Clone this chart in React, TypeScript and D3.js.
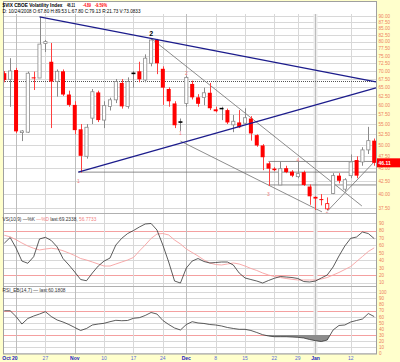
import React from "react";
import * as d3 from "d3";

// ---------- DATA ----------
const dates = [
  "10/16","10/17","10/20","10/21","10/22","10/23","10/24","10/27","10/28","10/29","10/30","10/31",
  "11/3","11/4","11/5","11/6","11/7","11/10","11/11","11/12","11/13","11/14","11/17","11/18","11/19","11/20","11/21",
  "11/24","11/25","11/26","11/28","12/1","12/2","12/3","12/4","12/5","12/8","12/9","12/10","12/11","12/12",
  "12/15","12/16","12/17","12/18","12/19","12/22","12/23","12/24","12/26","12/29","12/30","12/31","1/2",
  "1/5","1/6","1/7","1/8","1/9","1/12","1/13","1/14","1/15","1/16"
];
const opens = [69.3,67.4,70.3,52.9,53.0,68.0,67.8,79.3,73.0,66.7,69.9,62.9,60.0,53.7,47.5,56.5,63.5,56.0,59.6,61.4,66.3,59.6,69.5,69.9,67.2,72.5,80.6,70.7,64.5,60.4,55.7,60.4,66.0,62.1,62.1,63.4,58.8,59.2,58.6,54.8,55.4,55.2,56.4,52.3,49.9,46.0,44.9,41.7,45.0,44.3,43.3,44.2,41.4,39.5,39.1,37.4,40.1,43.5,40.9,43.5,46.7,46.3,48.9,51.0];
const highs = [70.0,74.2,71.0,53.5,69.8,69.8,89.5,80.6,79.5,70.5,70.5,64.0,61.0,55.0,55.0,64.5,64.0,61.0,62.0,67.5,67.5,68.0,70.0,73.0,75.5,81.2,81.0,71.5,65.0,61.0,56.4,68.5,67.0,63.0,64.9,66.3,59.5,59.5,59.0,57.3,58.6,59.1,57.0,52.5,50.2,46.3,45.2,46.4,45.5,44.6,46.3,44.5,41.8,39.6,40.0,39.4,44.0,44.0,43.0,47.9,47.5,49.5,54.3,51.5];
const lows = [66.5,59.5,52.8,50.9,52.8,64.2,67.8,76.3,54.0,62.3,62.5,59.5,52.5,44.1,47.0,55.0,55.5,54.0,58.5,60.5,59.0,59.0,64.9,66.5,66.5,71.5,69.0,60.0,59.5,54.0,53.3,59.5,61.5,59.5,59.9,58.6,58.0,56.0,55.0,53.0,54.0,55.0,51.0,49.6,44.6,41.5,44.4,41.7,44.0,43.2,43.0,41.5,38.1,37.2,38.0,37.2,40.0,42.0,40.5,43.0,43.0,45.5,48.0,45.5];
const closes = [67.2,70.0,53.2,53.3,69.3,67.8,79.1,80.0,66.7,69.9,62.9,60.0,53.5,47.6,54.2,63.7,56.0,59.8,61.4,66.7,59.6,66.7,69.0,67.4,74.2,80.6,72.5,64.9,61.0,54.7,55.3,68.0,62.1,60.3,63.4,59.1,58.3,58.8,55.4,55.7,54.2,56.6,52.7,49.9,47.3,44.9,44.6,44.9,44.2,43.5,43.9,41.7,39.6,39.2,38.95,38.3,43.5,42.5,42.7,46.3,43.5,48.9,51.0,46.11];

const vsK = [63,70.7,56.6,39,36,44.8,68.7,71,66.7,58,42.4,33.7,24.2,14.1,12.5,22.9,32.3,39,43,60.6,69.6,76,80.1,84.8,88.9,89.6,80.8,60.6,37.7,12.1,9.4,29.6,39,42.4,38.4,36.4,37,37.7,37.7,33.7,22.9,16.2,14.1,12.1,9.4,12.8,15.8,18.2,17.5,16.8,15.5,11.4,10.8,12.1,16.2,20.2,31,45.8,59.3,69.6,71.4,78.1,76,69.23];
const vsD = [73.7,71.6,67.7,63.3,59.3,56.2,53.9,55.2,56.2,55.2,52.9,49.8,46.5,42.4,40.4,37.7,35,32.3,32.3,35,37.7,40.4,43.8,52.5,60.6,69.4,75.4,76.1,74.1,67.3,62,55.2,50.5,45.8,40.4,36.4,34.3,33.7,35,36.4,35,32.3,29,26.3,22.9,20.2,18.2,16.8,15.5,14.4,13.5,13.5,13.5,13.5,14.8,16.8,20.2,23.6,27.6,31.6,38.4,45.1,51.9,56.77];
const rsi = [69.8,69.8,60.3,48,57,61.1,64.4,68.2,60.3,54.6,51.3,47.2,42.3,37.4,40.7,46.4,48,49.2,51.8,54.1,53.4,53.8,57.4,58.4,62,66.9,64.4,53.8,47.2,41.5,38.2,47.2,51.8,49.7,48.9,47.2,46.4,44.8,42.3,40.7,39.3,39.3,37.4,34.1,30.5,28.4,27.2,27.2,27.2,26.7,26.2,25.1,22.6,20.7,19.3,21.8,38.2,45.6,46.4,51.3,53.8,56.2,65.2,60.18];

const mainTicks = [90,87.5,85,82.5,80,77.5,75,72.5,70,67.5,65,62.5,60,57.5,55,52.5,50,47.5,45,42.5,40,37.5];
const vsTicks = [90,80,70,60,50,40,30,20,10];
const rsiTicks = [100,90,80,70,60,50,40,30,20,10,0];

const dateTickIdx = [2,7,12,17,22,27,31,36,41,46,50,53,59];
const dateTickLabels = ["Oct 20","27","Nov","10","17","24","Dec","8","15","22","29","Jan","12"];
const monthTick = [true,false,true,false,false,false,true,false,false,false,false,true,false];

// trendlines [idx, value]
const blueLines = [
  [[6, 89.5], [63.3, 66.6]],
  [[12.6, 44.2], [63.3, 64.8]],
];
const grayLines = [
  [[25, 81.2], [60.9, 37.9]],
  [[30, 50.9], [54.1, 36.9]],
  [[55, 37.0], [63.3, 46.7]],
  [[12.6, 44.2], [63.3, 44.2]],
  [[45, 46.4], [63.3, 46.4]],
  [[45, 41.7], [63.3, 41.7]],
];
const dottedLevel = 66.8;
const waveLabels = [
  { t: "1", i: 12.6, v: 44.1, dy: 10, c: "#f08080", s: 5 },
  { t: "2", i: 25, v: 81.2, dy: -2, c: "#000", s: 7 },
  { t: "2", i: 31, v: 68.5, dy: -1, c: "#f08080", s: 5 },
  { t: "1", i: 30, v: 53.3, dy: 4, c: "#f08080", s: 5 },
  { t: "3", i: 45, v: 41.5, dy: 10, c: "#f08080", s: 5 },
  { t: "4", i: 50, v: 46.3, dy: 0, c: "#f08080", s: 5 },
  { t: "5", i: 55, v: 37.2, dy: 6, c: "#f08080", s: 5 },
];

// ---------- LAYOUT ----------
const W = 400, H = 362;
const L = 3, R = 376.5;
const mainTop = 1.5, mainBot = 213;
const vsTop = 213, vsBot = 286;
const rsiTop = 286, rsiBot = 354;

const x = d3.scaleLinear().domain([0, 63]).range([4.3, 374.2]);
const yM = d3.scaleLog().domain([90, 37.5]).range([15.7, 208.3]);
const yV = d3.scaleLinear().domain([0, 100]).range([290, 215.75]);
const yR = d3.scaleLinear().domain([0, 100]).range([353.3, 292.3]);

const px = (v: number) => Math.round(v) + 0.5;
const FONT = "Liberation Sans, Arial, sans-serif";
const AXC = "#ee8060";
const GRID = "#d8d8d8";
const REF = "#f4a0a0";

export default function App() {
  const kLine = d3.line<number>().x((_, i) => x(i)).y((d) => yV(d));
  const rLine = d3.line<number>().x((_, i) => x(i)).y((d) => yR(d));
  const rArea = d3.area<number>().x((_, i) => x(i)).y0(yR(30)).y1((d) => yR(d));
  const lineFor = (seg: number[][]) =>
    d3.line<number[]>().x((d) => x(d[0])).y((d) => yM(d[1]))(seg) as string;

  const vGrid = dateTickIdx.map((idx, k) => (
    <line key={"vg" + k} x1={px(x(idx))} x2={px(x(idx))} y1={14} y2={rsiBot}
      stroke={monthTick[k] ? "#bdbdbd" : GRID} strokeWidth={1} />
  ));

  return (
    <svg width={W} height={H} style={{ display: "block", position: "absolute", left: 0, top: 0 }}
      fontFamily={FONT}>
      <defs>
        <clipPath id="cm"><rect x={L} y={mainTop} width={R - L} height={mainBot - mainTop} /></clipPath>
        <clipPath id="cv"><rect x={L} y={vsTop} width={R - L} height={vsBot - vsTop} /></clipPath>
        <clipPath id="cr"><rect x={L} y={rsiTop} width={R - L} height={rsiBot - rsiTop} /></clipPath>
        <clipPath id="cr30"><rect x={L} y={yR(30)} width={R - L} height={rsiBot - yR(30)} /></clipPath>
      </defs>
      <rect x={0} y={0} width={W} height={H} fill="#ffffcc" />
      <rect x={L} y={mainTop} width={R - L} height={rsiBot - mainTop} fill="#fff" />

      {/* horizontal grids */}
      {mainTicks.map((t) => (
        <line key={"mg" + t} x1={L} x2={R} y1={px(yM(t))} y2={px(yM(t))} stroke={GRID} />
      ))}
      {vsTicks.map((t) => (
        <line key={"vsg" + t} x1={L} x2={R} y1={px(yV(t))} y2={px(yV(t))}
          stroke={t === 80 || t === 20 ? REF : GRID} />
      ))}
      {rsiTicks.map((t) => (
        <line key={"rg" + t} x1={L} x2={R} y1={px(yR(t))} y2={px(yR(t))}
          stroke={t === 70 || t === 30 ? REF : GRID} />
      ))}
      <rect x={x(53) - 2} y={14} width={4} height={rsiBot - 14} fill="#ececec" />
      {vGrid}

      {/* panel separators */}
      <line x1={L} x2={R} y1={px(vsTop)} y2={px(vsTop)} stroke="#b0b0b0" />
      <line x1={L} x2={R} y1={px(vsBot)} y2={px(vsBot)} stroke="#b0b0b0" />

      {/* main panel */}
      <g clipPath="url(#cm)">
        <line x1={L} x2={R} y1={px(yM(dottedLevel))} y2={px(yM(dottedLevel))}
          stroke="#555" strokeDasharray="1,1" />
        {grayLines.map((s, k) => (
          <path key={"gl" + k} d={lineFor(s)} stroke="#707070" strokeWidth={0.8} fill="none" />
        ))}
        {opens.map((o, i) => {
          const c = closes[i];
          const prev = i > 0 ? closes[i - 1] : o;
          const up = c > o;
          const down = c < prev;
          const col = down ? "#ff0000" : up ? "#8a8a8a" : "#000";
          const wickCol = down ? "#ff4040" : "#8a8a8a";
          const cx = x(i);
          const top = yM(Math.max(o, c));
          const bot = yM(Math.min(o, c));
          const h = Math.max(1, bot - top);
          return (
            <g key={"c" + i}>
              <line x1={px(cx)} x2={px(cx)} y1={yM(highs[i])} y2={yM(lows[i])} stroke={wickCol} strokeWidth={1} />
              {up ? (
                <rect x={cx - 1.6} y={top} width={3.2} height={h} fill="#fff" stroke={col} strokeWidth={0.8} />
              ) : (
                <rect x={cx - 2} y={top} width={4} height={h} fill={col} />
              )}
            </g>
          );
        })}
        {blueLines.map((s, k) => (
          <path key={"bl" + k} d={lineFor(s)} stroke="#1c1c8c" strokeWidth={1.25} fill="none" />
        ))}
        {waveLabels.map((w, k) => (
          <text key={"wl" + k} x={x(w.i)} y={yM(w.v) + w.dy} fontSize={w.s} fill={w.c}
            textAnchor="middle" fontWeight={w.s > 5 ? "bold" : "normal"}>{w.t}</text>
        ))}
      </g>

      {/* VS panel */}
      <g clipPath="url(#cv)">
        <path d={kLine(vsD) as string} stroke="#f6a0a0" strokeWidth={0.9} fill="none" />
        <path d={kLine(vsK) as string} stroke="#333" strokeWidth={0.8} fill="none" />
      </g>

      {/* RSI panel */}
      <g clipPath="url(#cr)">
        <path d={rArea(rsi) as string} fill="#8c8c8c" clipPath="url(#cr30)" />
        <path d={rLine(rsi) as string} stroke="#333" strokeWidth={0.8} fill="none" />
      </g>

      {/* outer border */}
      <rect x={L + 0.5} y={mainTop} width={R - L - 0.5} height={rsiBot - mainTop} fill="none" stroke="#a0a0a0" />

      {/* header */}
      <rect x={L + 1} y={mainTop + 0.5} width={R - L - 2} height={12} fill="#fff" />
      <text x={2.5} y={7.3} fontSize={5} fontWeight="bold" textLength={60} lengthAdjust="spacingAndGlyphs">$VIX CBOE Volatility Index</text>
      <text x={67} y={7.3} fontSize={5} fontWeight="bold" textLength={8} lengthAdjust="spacingAndGlyphs">46.11</text>
      <text x={83} y={7.3} fontSize={5} fontWeight="bold" fill="#ff0000" textLength={8} lengthAdjust="spacingAndGlyphs">-4.89</text>
      <text x={95} y={7.3} fontSize={5} fontWeight="bold" fill="#ff0000" textLength={12} lengthAdjust="spacingAndGlyphs">-9.59%</text>
      <text x={2.5} y={13.3} fontSize={5} textLength={138} lengthAdjust="spacingAndGlyphs">D: 10/24/2008 O:67.80 H:89.53 L:67.80 C:79.13 R:21.73 V:73.0833</text>

      {/* panel labels */}
      <text x={2.5} y={221} fontSize={4.8} fill="#333">
        <tspan>VS(10,9) —%K </tspan>
        <tspan fill="#f08080">—%D</tspan>
        <tspan> last:69.2338, </tspan>
        <tspan fill="#f08080">56.7733</tspan>
      </text>
      <text x={2.5} y={291.5} fontSize={5} fill="#333" textLength={63} lengthAdjust="spacingAndGlyphs">RSI_EB(14,7) — last:60.1808</text>

      {/* right axis labels */}
      {mainTicks.map((t) => (
        <text key={"ml" + t} x={378.5} y={yM(t) + 1.8} fontSize={4.6} fill={AXC}>{t.toFixed(2)}</text>
      ))}
      {vsTicks.map((t) => (
        <text key={"vl" + t} x={379} y={yV(t) + 1.8} fontSize={4.6} fill={AXC}>{t}</text>
      ))}
      {rsiTicks.map((t) => (
        <text key={"rl" + t} x={379} y={yR(t) + 1.8} fontSize={4.6} fill={AXC}>{t}</text>
      ))}
      {/* last price marker */}
      <rect x={377} y={yM(46.11) - 4.5} width={23} height={9} fill="#ff0000" />
      <text x={378.5} y={yM(46.11) + 2} fontSize={5} fontWeight="bold" fill="#fff">46.11</text>

      {/* date labels */}
      {dateTickIdx.map((idx, k) => (
        <text key={"dl" + k} x={k === 0 ? 10 : x(idx)} y={360} fontSize={5}
          textAnchor="middle" fill={monthTick[k] ? "#2020c0" : "#5a6ad8"}
          fontWeight={monthTick[k] ? "bold" : "normal"}>{dateTickLabels[k]}</text>
      ))}
    </svg>
  );
}
